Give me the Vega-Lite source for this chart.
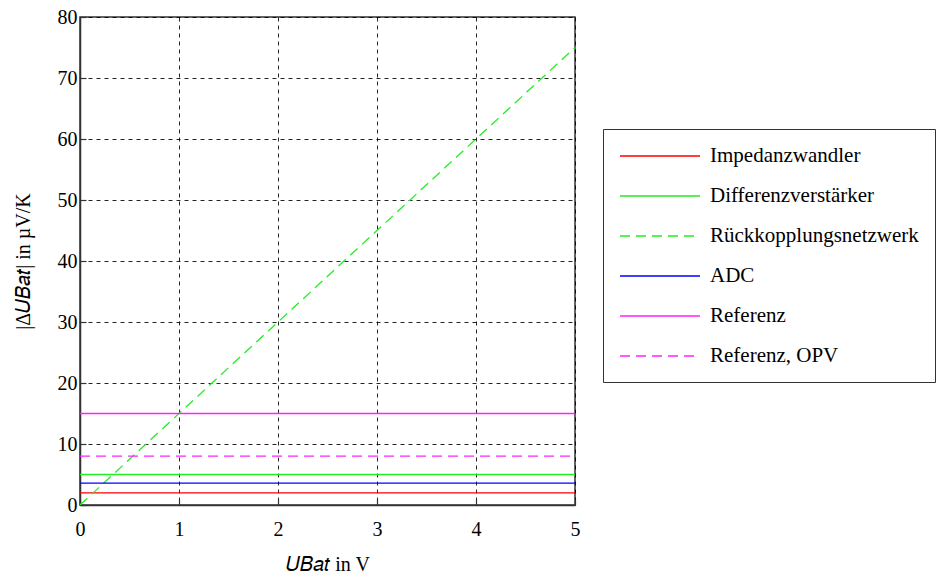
{
  "$schema": "https://vega.github.io/schema/vega-lite/v6.json",
  "width": 495,
  "height": 488,
  "autosize": {"type": "none"},
  "padding": {"left": 80, "top": 17, "right": 369, "bottom": 76},
  "background": "white",
  "config": {
    "font": "Liberation Serif",
    "view": {"stroke": "#333", "strokeWidth": 1.5},
    "axis": {
      "labelFont": "Liberation Serif",
      "titleFont": "Liberation Serif",
      "labelFontSize": 20,
      "titleFontSize": 20,
      "labelColor": "black",
      "titleColor": "black",
      "titleFontWeight": "normal",
      "labelFlush": false,
      "labelOverlap": false,
      "domainColor": "#333",
      "domainWidth": 1.5,
      "tickColor": "#333",
      "tickSize": -6,
      "tickWidth": 1.2,
      "gridColor": "black",
      "gridDash": [4, 4],
      "gridWidth": 1,
      "gridOpacity": 0.85
    }
  },
  "data": {
    "values": [
      {"series": "Impedanzwandler", "u": 0, "v": 2},
      {"series": "Impedanzwandler", "u": 5, "v": 2},
      {"series": "Differenzverstärker", "u": 0, "v": 5},
      {"series": "Differenzverstärker", "u": 5, "v": 5},
      {"series": "Rückkopplungsnetzwerk", "u": 0, "v": 0},
      {"series": "Rückkopplungsnetzwerk", "u": 5, "v": 75},
      {"series": "ADC", "u": 0, "v": 3.6},
      {"series": "ADC", "u": 5, "v": 3.6},
      {"series": "Referenz", "u": 0, "v": 15},
      {"series": "Referenz", "u": 5, "v": 15},
      {"series": "Referenz, OPV", "u": 0, "v": 8},
      {"series": "Referenz, OPV", "u": 5, "v": 8}
    ]
  },
  "mark": {"type": "line", "strokeWidth": 1.3, "clip": true},
  "encoding": {
    "x": {
      "field": "u", "type": "quantitative",
      "scale": {"domain": [0, 5], "nice": false},
      "axis": {"values": [0, 1, 2, 3, 4, 5], "title": "𝑈𝐵𝑎𝑡 in V", "labelPadding": 20, "titlePadding": 15}
    },
    "y": {
      "field": "v", "type": "quantitative",
      "scale": {"domain": [0, 80], "nice": false},
      "axis": {"values": [0, 10, 20, 30, 40, 50, 60, 70, 80], "title": "|Δ𝑈𝐵𝑎𝑡| in µV/K", "labelPadding": 9, "titlePadding": 24}
    },
    "color": {
      "field": "series", "type": "nominal",
      "scale": {
        "domain": ["Impedanzwandler", "Differenzverstärker", "Rückkopplungsnetzwerk", "ADC", "Referenz", "Referenz, OPV"],
        "range": ["#ff0000", "#22ee22", "#22ee22", "#0000ff", "#ff22ff", "#ff22ff"]
      },
      "legend": {
        "title": null,
        "orient": "none",
        "legendX": 523,
        "legendY": 112,
        "symbolType": "M-1,0H7",
        "symbolSize": 400,
        "symbolStrokeWidth": 1.3,
        "labelFont": "Liberation Serif",
        "labelFontSize": 21,
        "labelColor": "black",
        "labelOffset": 69,
        "labelLimit": 300,
        "rowPadding": 19,
        "padding": 16,
        "strokeColor": "#333",
        "fillColor": "white",
        "cornerRadius": 0
      }
    },
    "strokeDash": {
      "field": "series", "type": "nominal",
      "scale": {
        "domain": ["Impedanzwandler", "Differenzverstärker", "Rückkopplungsnetzwerk", "ADC", "Referenz", "Referenz, OPV"],
        "range": [[1, 0], [1, 0], [10, 6], [1, 0], [1, 0], [10, 6]]
      },
      "legend": {
        "title": null,
        "orient": "none",
        "legendX": 523,
        "legendY": 112,
        "symbolType": "M-1,0H7",
        "symbolSize": 400,
        "symbolStrokeWidth": 1.3,
        "labelFont": "Liberation Serif",
        "labelFontSize": 21,
        "labelColor": "black",
        "labelOffset": 69,
        "labelLimit": 300,
        "rowPadding": 19,
        "padding": 16,
        "strokeColor": "#333",
        "fillColor": "white",
        "cornerRadius": 0
      }
    }
  }
}
